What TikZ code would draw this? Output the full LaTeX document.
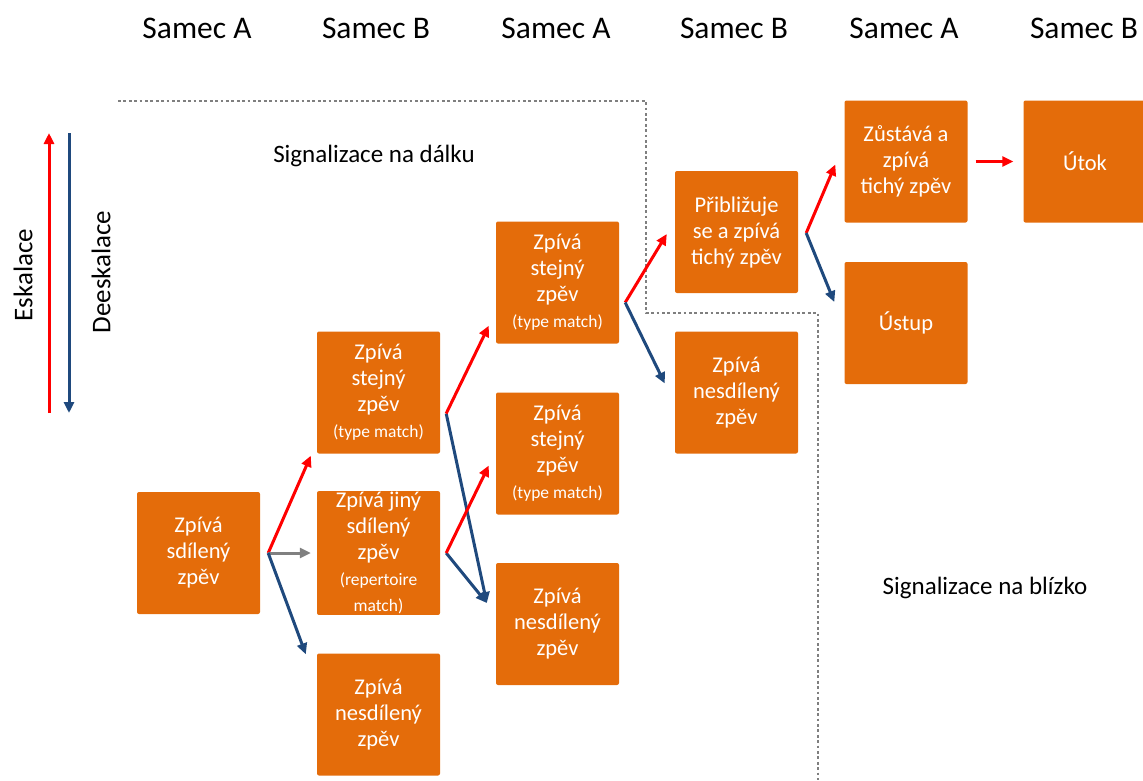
\documentclass[tikz,border=0pt]{standalone}
\usepackage{fontspec}
\setmainfont{Carlito}
\usetikzlibrary{arrows.meta,calc}

\definecolor{boxorange}{HTML}{E46C0A}
\definecolor{eskred}{HTML}{FF0000}
\definecolor{deeskblue}{HTML}{1F497D}
\definecolor{zonegray}{HTML}{7F7F7F}

\tikzset{
  stage/.style={
    fill=boxorange, rounded corners=2pt,
    minimum width=123pt, minimum height=122pt, inner sep=1pt,
    text=white, align=center, font=\fontsize{22.5}{26}\selectfont
  },
  head/.style={anchor=base, font=\fontsize{31.5}{36}\selectfont},
  zonelabel/.style={anchor=base, font=\fontsize{25}{29}\selectfont},
  scalelabel/.style={rotate=90, font=\fontsize{27}{32}\selectfont},
  zone/.style={zonegray, line width=2.8pt, dash pattern=on 2.8pt off 2.6pt},
  esc/.style={eskred, line width=3pt, -{Triangle[length=11pt,width=10pt]}},
  deesc/.style={deeskblue, line width=3pt, -{Triangle[length=11pt,width=10pt]}},
  neutral/.style={gray, line width=3pt, -{Triangle[length=11pt,width=10pt]}}
}
\newcommand{\sm}[1]{{\fontsize{17.5}{21}\selectfont #1}}

\begin{document}
\begin{tikzpicture}[x=1pt, y=-1pt]
  \useasboundingbox (0,0) rectangle (1143,780);

  % Záhlaví sloupců
  \node[head] (h1) at (197,38) {Samec A};
  \node[head] (h2) at (376,38) {Samec B};
  \node[head] (h3) at (556,38) {Samec A};
  \node[head] (h4) at (734,38) {Samec B};
  \node[head] (h5) at (904,38) {Samec A};
  \node[head] (h6) at (1084,38) {Samec B};

  % Hranice mezi signalizací na dálku a na blízko
  \draw[zone] (118,101) -- (646,101) -- (646,313) -- (818,313) -- (818,780);
  \node[zonelabel] (far) at (374,162) {Signalizace na dálku};
  \node[zonelabel] (near) at (985,594) {Signalizace na blízko};

  % Eskalace / deeskalace
  \coordinate (escBot) at (49,413);
  \coordinate (escTop) at (49,133);
  \coordinate (deTop) at (69,133);
  \coordinate (deBot) at (69,413);
  \draw[esc] (escBot) -- (escTop);
  \draw[deesc] (deTop) -- (deBot);
  \node[scalelabel] (eskal) at (23,275) {Eskalace};
  \node[scalelabel] (deeskal) at (101,272) {Deeskalace};

  % Stupně
  \node[stage] (zpA) at (198.5,553) {Zpívá\\sdílený\\zpěv};
  \node[stage] (stejB) at (378.5,392.5) {Zpívá\\stejný\\zpěv\\\sm{(type match)}};
  \node[stage] (jinyB) at (378.5,553) {Zpívá jiný\\sdílený\\zpěv\\\sm{(repertoire}\\\sm{match)}};
  \node[stage] (nesdB) at (378.5,714.5) {Zpívá\\nesdílený\\zpěv};
  \node[stage] (stejA) at (557.5,282.5) {Zpívá\\stejný\\zpěv\\\sm{(type match)}};
  \node[stage] (stejA2) at (557.5,453.5) {Zpívá\\stejný\\zpěv\\\sm{(type match)}};
  \node[stage] (nesdA) at (557.5,624) {Zpívá\\nesdílený\\zpěv};
  \node[stage] (blizB) at (736.5,232) {Přibližuje\\se a zpívá\\tichý zpěv};
  \node[stage] (nesdB2) at (736.5,392.5) {Zpívá\\nesdílený\\zpěv};
  \node[stage] (zustA) at (906,161.5) {Zůstává a\\zpívá\\tichý zpěv};
  \node[stage] (ustA) at (906,323) {Ústup};
  \node[stage] (utokB) at (1085,161.5) {Útok};

  % Rozcestí
  \coordinate (fZp) at ($(zpA.east)+(8,0)$);
  \coordinate (fStej) at ($(stejB.east)+(6,21)$);
  \coordinate (fJiny) at ($(jinyB.east)+(6,0)$);
  \coordinate (fStejA) at ($(stejA.east)+(6,20)$);
  \coordinate (fBliz) at ($(blizB.east)+(8,1)$);

  % Přechody
  \draw[esc] (fZp) -- ($(stejB.south west)+(-6,2)$);
  \draw[neutral] (fZp) -- ($(jinyB.west)+(-6,0)$);
  \draw[deesc] (fZp) -- ($(nesdB.north west)+(-11,1)$);
  \draw[deesc] (fStej) -- ($(nesdA.west)+(-9,-21)$);
  \draw[esc] (fStej) -- ($(stejA.south west)+(-7,-18)$);
  \draw[deesc] (fJiny) -- ($(nesdA.west)+(-9,-21)$);
  \draw[esc] (fJiny) -- ($(stejA2.west)+(-7,12)$);
  \draw[esc] (fStejA) -- ($(blizB.west)+(-8,2)$);
  \draw[deesc] (fStejA) -- ($(nesdB2.west)+(-10,-9)$);
  \draw[esc] (fBliz) -- ($(zustA.west)+(-9,3)$);
  \draw[deesc] (fBliz) -- ($(ustA.west)+(-10,-21)$);
  \draw[esc] ($(zustA.east)+(8,0)$) -- ($(utokB.west)+(-10,0)$);
\end{tikzpicture}
\end{document}
